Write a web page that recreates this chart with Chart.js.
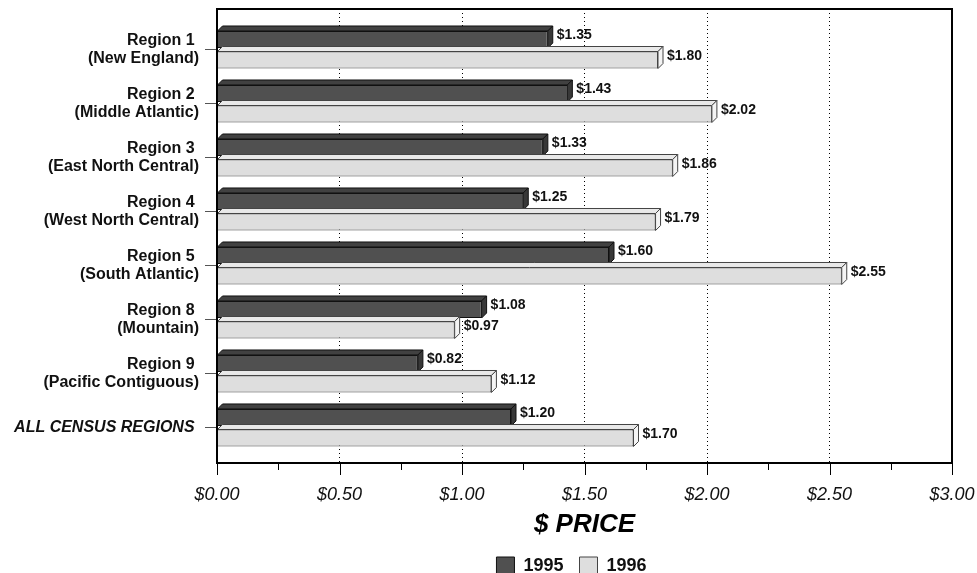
<!DOCTYPE html>
<html>
<head>
<meta charset="utf-8">
<script src="https://cdn.jsdelivr.net/npm/chart.js@4/dist/chart.umd.min.js"></script>
<style>
  html, body { margin: 0; padding: 0; background: #ffffff; }
  #wrap { width: 977px; height: 573px; }
</style>
</head>
<body>
<div id="wrap"><canvas id="c" width="977" height="573"></canvas></div>
<script>
// Region labels (first line carries a trailing space, as set in the legend text)
const categories = [
  ['Region 1 ', '(New England)'],
  ['Region 2 ', '(Middle Atlantic)'],
  ['Region 3 ', '(East North Central)'],
  ['Region 4 ', '(West North Central)'],
  ['Region 5 ', '(South Atlantic)'],
  ['Region 8 ', '(Mountain)'],
  ['Region 9 ', '(Pacific Contiguous)'],
  'ALL CENSUS REGIONS '
];
const seriesNames = ['1995', '1996'];
const prices1995 = [1.35, 1.43, 1.33, 1.25, 1.60, 1.08, 0.82, 1.20];
const prices1996 = [1.80, 2.02, 1.86, 1.79, 2.55, 0.97, 1.12, 1.70];
const priceMin = 0;
const priceMax = 3;
const priceStep = 0.25;
const axisTitle = '$ PRICE';

const FONT = "'Liberation Sans', Arial, Helvetica, sans-serif";
Chart.defaults.font.family = FONT;
Chart.defaults.color = '#111';

const DEPTH = 5;
const faceColors = [
  { front: '#505050', top: '#414141', side: '#383838', edge: '#111111' },
  { front: '#dedede', top: '#e9e9e9', side: '#f4f4f4', edge: '#444444' }
];

const isMajor = v => Math.abs(Math.round(v * 100) % 50) === 0;

// 3-D extrusion for each bar, plus its value label
const bar3d = {
  id: 'bar3d',
  afterDatasetsDraw(chart) {
    const ctx = chart.ctx;
    chart.data.datasets.forEach((ds, di) => {
      const meta = chart.getDatasetMeta(di);
      const c = faceColors[di];
      meta.data.forEach((el, i) => {
        const p = el.getProps(['x', 'y', 'base', 'height'], true);
        const left = Math.min(p.base, p.x), right = Math.max(p.base, p.x);
        const top = p.y - p.height / 2, bottom = p.y + p.height / 2;
        ctx.save();
        ctx.lineWidth = 1;
        ctx.strokeStyle = c.edge;
        ctx.lineJoin = 'miter';
        // top face
        ctx.beginPath();
        ctx.moveTo(left, top);
        ctx.lineTo(left + DEPTH, top - DEPTH);
        ctx.lineTo(right + DEPTH, top - DEPTH);
        ctx.lineTo(right, top);
        ctx.closePath();
        ctx.fillStyle = c.top;
        ctx.fill();
        ctx.stroke();
        // side face
        ctx.beginPath();
        ctx.moveTo(right, top);
        ctx.lineTo(right + DEPTH, top - DEPTH);
        ctx.lineTo(right + DEPTH, bottom - DEPTH);
        ctx.lineTo(right, bottom);
        ctx.closePath();
        ctx.fillStyle = c.side;
        ctx.fill();
        ctx.stroke();
        // value label
        const v = ds.data[i].x;
        ctx.fillStyle = '#111';
        ctx.font = 'bold 14px ' + FONT;
        ctx.textAlign = 'left';
        ctx.textBaseline = 'middle';
        ctx.fillText('$' + v.toFixed(2), right + DEPTH + 4, p.y - DEPTH + 1);
        ctx.restore();
      });
    });
  }
};

// Plot frame and the tick marks under the price axis
const frame = {
  id: 'frame',
  afterDraw(chart) {
    const ctx = chart.ctx;
    const a = chart.chartArea;
    const xs = chart.scales.x;
    ctx.save();
    ctx.strokeStyle = '#000';
    ctx.lineWidth = 1;
    xs.ticks.forEach(t => {
      const px = Math.round(xs.getPixelForValue(t.value)) + 0.5;
      const len = isMajor(t.value) ? 12 : 7;
      ctx.beginPath();
      ctx.moveTo(px, a.bottom);
      ctx.lineTo(px, a.bottom + len);
      ctx.stroke();
    });
    ctx.lineWidth = 2;
    ctx.strokeRect(a.left, a.top, a.right - a.left, a.bottom - a.top);
    ctx.restore();
  }
};

// Nudge the legend row slightly left of the plot centre
const legendNudge = {
  id: 'legendNudge',
  afterLayout(chart) {
    if (chart.legend) {
      chart.legend.left -= 13;
      chart.legend.right -= 13;
    }
  }
};

new Chart(document.getElementById('c'), {
  type: 'bar',
  data: {
    datasets: [
      {
        label: seriesNames[0],
        data: prices1995.map((v, i) => ({ x: v, y: i })),
        backgroundColor: faceColors[0].front,
        borderColor: faceColors[0].edge,
        borderWidth: 1,
        categoryPercentage: 0.76,
        barPercentage: 0.83
      },
      {
        label: seriesNames[1],
        data: prices1996.map((v, i) => ({ x: v, y: i })),
        backgroundColor: faceColors[1].front,
        borderColor: faceColors[1].edge,
        borderWidth: 1,
        categoryPercentage: 0.76,
        barPercentage: 0.83
      }
    ]
  },
  options: {
    indexAxis: 'y',
    responsive: false,
    animation: false,
    devicePixelRatio: 1,
    layout: { padding: { left: 0, right: 25, top: 9, bottom: -12 } },
    plugins: {
      tooltip: { enabled: false },
      legend: {
        position: 'bottom',
        fullSize: false,
        labels: {
          boxWidth: 18,
          boxHeight: 18,
          padding: 16,
          color: '#111',
          font: { size: 18, weight: 'bold' }
        }
      }
    },
    scales: {
      x: {
        type: 'linear',
        min: priceMin,
        max: priceMax,
        afterFit: s => {
          s.height = 78;
          s.paddingLeft = 0;
          s.paddingRight = 0;
        },
        border: { display: false, dash: [1, 3] },
        grid: {
          drawTicks: false,
          lineWidth: 1,
          color: c => (isMajor(c.tick.value) && c.tick.value > priceMin && c.tick.value < priceMax) ? '#000' : 'rgba(0,0,0,0)'
        },
        ticks: {
          stepSize: priceStep,
          autoSkip: false,
          maxRotation: 0,
          padding: 21,
          color: '#111',
          font: { size: 18, style: 'italic' },
          callback: v => isMajor(v) ? '$' + v.toFixed(2) : ''
        },
        title: {
          display: true,
          text: axisTitle,
          color: '#000',
          padding: { top: 0, bottom: 1 },
          font: { size: 26, weight: 'bold', style: 'italic' }
        }
      },
      y: {
        type: 'linear',
        reverse: true,
        offset: false,
        bounds: 'data',
        min: -0.755,
        max: 7.653,
        afterFit: s => {
          s.width = 217;
          s.paddingTop = 0;
          s.paddingBottom = 0;
        },
        afterBuildTicks: s => { s.ticks = categories.map((_, i) => ({ value: i })); },
        border: { display: false },
        grid: {
          offset: false,
          drawOnChartArea: false,
          drawTicks: true,
          tickLength: 12,
          tickColor: '#555'
        },
        ticks: {
          stepSize: 1,
          autoSkip: false,
          padding: 6,
          color: '#111',
          font: c => ({
            size: 16,
            weight: 'bold',
            style: c.index === categories.length - 1 ? 'italic' : 'normal',
            lineHeight: 1.125
          }),
          callback: v => categories[v]
        }
      }
    }
  },
  plugins: [bar3d, frame, legendNudge]
});
</script>
</body>
</html>
